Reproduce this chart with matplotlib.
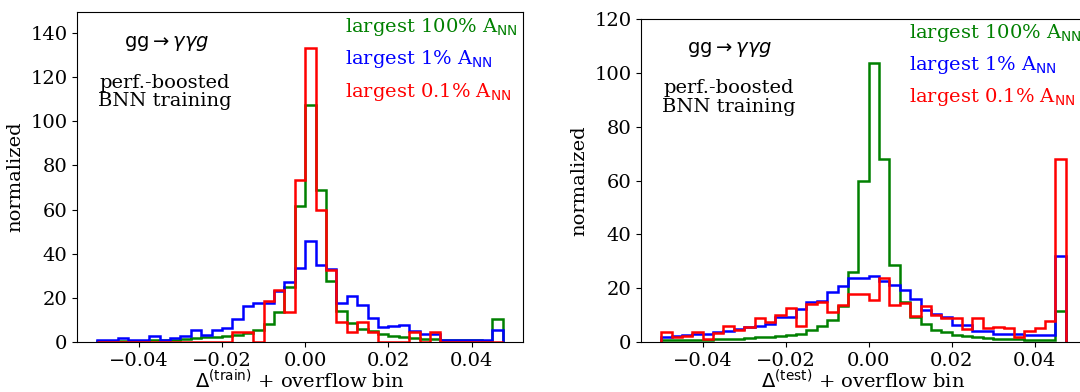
import numpy as np
import matplotlib
matplotlib.use("Agg")
import matplotlib.pyplot as plt

plt.rcParams['font.family'] = 'DejaVu Serif'
plt.rcParams['mathtext.fontset'] = 'dejavusans'
plt.rcParams['font.size'] = 14

# 39 bins of width 0.0025, the last one is the overflow bin
edges = np.linspace(-0.05, 0.0475, 40)

# training set
train_100 = [0.3, 0.3, 0.4, 0.5, 0.6, 0.8, 0.9, 1.0, 1.2, 1.8, 2.1, 2.4, 2.9, 3.3,
             3.9, 5.6, 8.3, 13.4, 24.9, 61.4, 107.5, 68.7, 27.8, 14.2, 8.6, 5.9,
             4.8, 3.5, 2.6, 2.1, 1.7, 1.5, 1.4, 1.1, 0.9, 0.8, 0.7, 0.6, 10.6]
train_1 = [1.0, 0.8, 1.6, 1.0, 0.9, 2.8, 1.0, 1.6, 2.6, 5.6, 3.3, 5.3, 6.5, 10.6,
           16.1, 17.6, 17.6, 23.3, 27.3, 33.5, 45.6, 34.8, 33.2, 17.8, 20.8, 16.9,
           10.7, 7.0, 7.4, 7.8, 5.1, 3.6, 3.6, 1.0, 1.0, 0.8, 1.0, 1.0, 5.5]
train_01 = [0, 0, 0, 0, 0, 0, 0, 0, 0, 0, 0, 0, 0, 4.7, 4.7, 0, 18.4, 23.4, 13.6,
            73.5, 133.2, 59.6, 32.5, 9.1, 4.4, 9.1, 4.5, 0, 0, 0, 4.5, 0, 4.5,
            0, 0, 0, 0, 0, 0]

# test set
test_100 = [0.6, 0.6, 0.7, 0.8, 0.9, 1.0, 1.1, 1.3, 1.5, 1.7, 1.9, 2.2, 2.5, 3.0,
            4.3, 5.8, 8.3, 13.5, 26.1, 59.7, 103.8, 68.1, 28.5, 14.7, 9.3, 6.8,
            4.6, 3.6, 2.7, 2.1, 1.7, 1.5, 1.2, 1.1, 1.0, 0.9, 0.8, 0.7, 11.4]
test_1 = [2.0, 2.1, 2.6, 3.0, 3.0, 3.6, 4.2, 4.8, 5.4, 6.1, 6.7, 9.4, 9.4, 12.3,
          15.0, 15.3, 18.7, 20.7, 23.8, 23.6, 24.6, 22.8, 21.2, 19.2, 16.1, 12.0,
          10.5, 9.4, 6.2, 6.2, 4.2, 4.1, 3.0, 3.0, 2.8, 2.6, 2.5, 2.5, 31.8]
test_01 = [3.8, 1.9, 2.4, 3.8, 1.0, 3.3, 5.8, 4.6, 5.4, 8.8, 7.3, 10.1, 12.6, 5.8,
           14.0, 15.0, 11.0, 13.7, 17.9, 17.9, 15.7, 23.8, 13.9, 14.5, 9.5, 13.2,
           10.1, 8.9, 8.9, 5.0, 8.9, 5.2, 5.4, 5.2, 1.7, 4.0, 5.2, 7.9, 68.1]

labels = [r'largest 100% A$_{\rm NN}$', r'largest 1% A$_{\rm NN}$',
          r'largest 0.1% A$_{\rm NN}$']
colors = ['green', 'blue', 'red']

fig = plt.figure(figsize=(10.8, 3.92), dpi=100)
ax1 = fig.add_axes([77/1080, 50/392, 446/1080, 330/392])
ax2 = fig.add_axes([641/1080, 50/392, 445/1080, 323/392])

panels = [(ax1, [train_100, train_1, train_01], 'train', 149.5),
          (ax2, [test_100, test_1, test_01], 'test', 120)]

for ax, series, name, ytop in panels:
    for vals, c in zip(series, colors):
        ax.stairs(vals, edges, color=c, lw=1.8, baseline=0)
    ax.set_xlim(-0.054875, 0.052375)
    ax.set_ylim(0, ytop)
    ax.set_xticks([-0.04, -0.02, 0.0, 0.02, 0.04])
    ax.set_ylabel('normalized')
    ax.set_xlabel(r'$\Delta^{\rm (%s)}$ + overflow bin' % name, labelpad=0)
    ax.text(0.20, 0.905, r'$\mathrm{gg}\to\gamma\gamma g$', transform=ax.transAxes,
            ha='center', va='center')
    ax.text(0.197, 0.758, 'perf.-boosted\nBNN training', transform=ax.transAxes,
            ha='center', va='center', linespacing=1.05)
    for i, (lab, c) in enumerate(zip(labels, colors)):
        ax.text(0.602, 0.956 - i * 0.099, lab, color=c, transform=ax.transAxes,
                ha='left', va='center')

fig.savefig('out.png', dpi=100)
